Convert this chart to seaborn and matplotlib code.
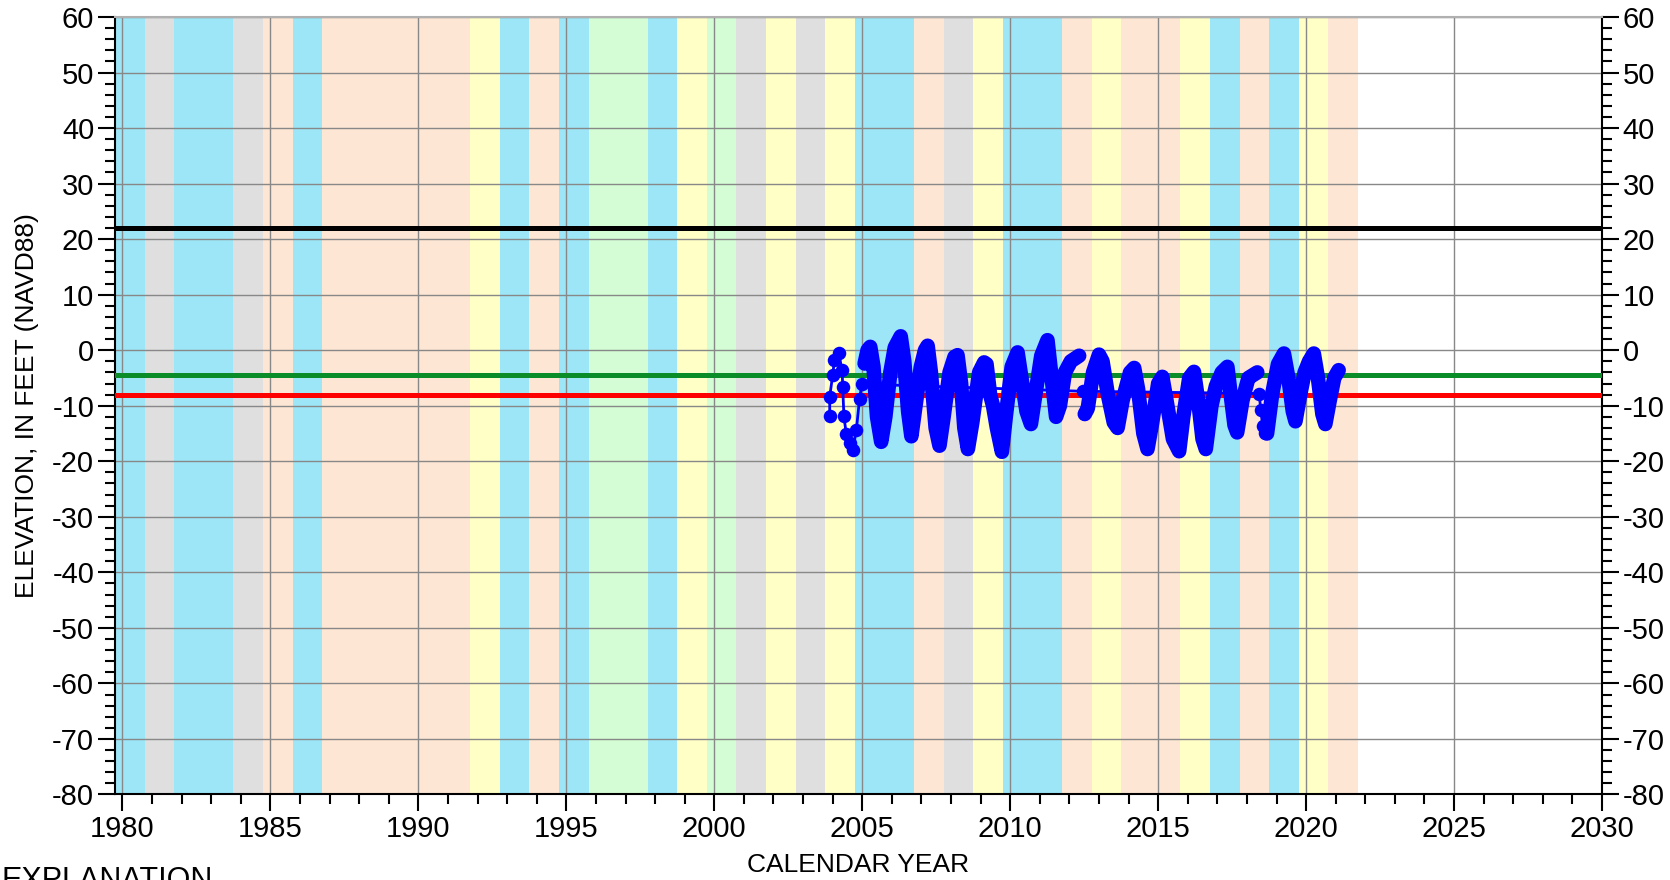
import pandas as pd
import seaborn as sns
import matplotlib.pyplot as plt
from matplotlib.ticker import MultipleLocator

# water-year classification shading, WY 1980-2021 (each WY runs Oct 1 - Sep 30)
water_years = list(range(1980, 2022))
wy_class = ['W', 'C', 'W', 'W', 'C', 'D', 'W', 'D', 'D', 'D', 'D', 'D', 'BN', 'W',
            'D', 'W', 'AN', 'AN', 'W', 'BN', 'AN', 'C', 'BN', 'C', 'BN', 'W', 'W',
            'D', 'C', 'BN', 'W', 'W', 'D', 'BN', 'D', 'D', 'BN', 'W', 'D', 'W', 'BN', 'D']
class_colors = {'W': '#9de6f8', 'AN': '#d5fdd5', 'BN': '#ffffc6',
                'D': '#fde6d3', 'C': '#dfdfdf'}

# reference elevations
ref_black = 22.0
ref_green = -4.5
ref_red = -8.0

# sparse early / gap measurements
sparse_year = [2003.90, 2003.90, 2004.00, 2004.06, 2004.20, 2004.32, 2004.34, 2004.38,
               2004.46, 2004.58, 2004.68, 2004.80, 2004.91, 2004.99]
sparse_elev = [-11.9, -8.4, -4.5, -1.8, -0.5, -3.6, -6.6, -11.9,
               -15.1, -16.8, -18.0, -14.4, -8.7, -6.1]
gap_year = [2012.45, 2018.41, 2018.47, 2018.53, 2018.60]
gap_elev = [-7.4, -7.8, -10.8, -13.6, -15.0]

# continuous record, split where the record has gaps
seg1_year = [2005.08, 2005.18, 2005.27, 2005.38, 2005.50, 2005.64, 2005.78, 2005.95,
             2006.10, 2006.30, 2006.42, 2006.55, 2006.66, 2006.80, 2006.98,
             2007.12, 2007.21, 2007.32, 2007.48, 2007.61, 2007.75, 2007.95,
             2008.12, 2008.22, 2008.34, 2008.45, 2008.57, 2008.72, 2008.95,
             2009.12, 2009.20, 2009.32, 2009.42, 2009.55, 2009.72, 2009.85,
             2010.05, 2010.25, 2010.38, 2010.55, 2010.70, 2010.85,
             2011.05, 2011.26, 2011.38, 2011.55, 2011.68, 2011.85, 2012.05, 2012.33]
seg1_elev = [-2.4, 0.0, 0.6, -3.0, -12.0, -16.5, -12.0, -4.0,
             0.5, 2.5, -2.0, -11.0, -15.5, -10.0, -3.0,
             0.0, 0.8, -4.0, -14.0, -17.2, -12.0, -4.0,
             -1.2, -0.9, -6.0, -14.0, -17.8, -13.0, -4.0,
             -2.2, -2.5, -8.0, -10.0, -14.0, -18.3, -12.0,
             -3.0, -0.4, -5.0, -11.0, -13.3, -8.0,
             -1.0, 1.8, -4.0, -12.0, -10.0, -4.0, -2.0, -1.0]
seg2_year = [2012.52, 2012.62, 2012.80, 2013.00, 2013.12, 2013.30, 2013.50, 2013.63,
             2013.80, 2014.05, 2014.19, 2014.32, 2014.50, 2014.64, 2014.80,
             2015.00, 2015.14, 2015.28, 2015.50, 2015.71, 2015.85,
             2016.05, 2016.21, 2016.35, 2016.50, 2016.61, 2016.80, 2016.95,
             2017.15, 2017.34, 2017.45, 2017.58, 2017.67, 2017.85,
             2018.05, 2018.20, 2018.35]
seg2_elev = [-11.5, -10.5, -4.0, -0.8, -2.0, -8.0, -13.0, -14.0,
             -9.0, -4.0, -3.2, -7.0, -15.0, -17.8, -13.0,
             -6.0, -4.8, -9.0, -16.0, -18.2, -12.0,
             -5.0, -3.9, -9.0, -16.0, -17.8, -10.0, -6.5,
             -4.0, -3.0, -8.0, -13.5, -14.8, -9.0,
             -5.0, -4.5, -4.0]
seg3_year = [2018.68, 2018.85, 2019.05, 2019.25, 2019.40, 2019.55, 2019.64, 2019.80,
             2019.95, 2020.10, 2020.26, 2020.40, 2020.55, 2020.65, 2020.80, 2020.95, 2021.10]
seg3_elev = [-15.0, -8.0, -2.5, -0.6, -5.0, -11.0, -12.8, -8.0,
             -4.0, -2.0, -0.6, -5.0, -11.5, -13.3, -9.0, -5.0, -3.6]

sns.set_theme(style='ticks')
plt.rcParams['font.family'] = ['Liberation Sans', 'DejaVu Sans']
plt.rcParams['axes.unicode_minus'] = False
plt.rcParams['text.color'] = 'black'
plt.rcParams['axes.labelcolor'] = 'black'

fig = plt.figure(figsize=(16.7, 8.8), dpi=100)
ax = fig.add_axes([0.0689, 0.0972, 0.8904, 0.8835])

for wy, c in zip(water_years, wy_class):
    ax.axvspan(wy - 0.25, wy + 0.75, color=class_colors[c], lw=0, zorder=1)

ax.axhline(ref_black, color='black', lw=3.6, zorder=3)
ax.axhline(ref_green, color='#0a8c28', lw=3.6, zorder=3)
ax.axhline(ref_red, color='#ff0000', lw=3.6, zorder=3)

main = pd.concat([
    pd.DataFrame({'year': seg1_year, 'elev': seg1_elev, 'seg': 1}),
    pd.DataFrame({'year': seg2_year, 'elev': seg2_elev, 'seg': 2}),
    pd.DataFrame({'year': seg3_year, 'elev': seg3_elev, 'seg': 3}),
])
sns.lineplot(data=main, x='year', y='elev', units='seg', estimator=None, sort=False,
             color='#0000ff', lw=10.5, solid_joinstyle='round', solid_capstyle='round',
             zorder=4, ax=ax)

sparse = pd.DataFrame({'year': sparse_year + gap_year, 'elev': sparse_elev + gap_elev})
sns.lineplot(data=sparse, x='year', y='elev', estimator=None, sort=False,
             color='#0000ff', lw=2.0, zorder=4, ax=ax)
sns.scatterplot(data=sparse, x='year', y='elev', color='#0000ff', s=95, lw=0,
                zorder=5, ax=ax)

ax.set_xlim(1979.75, 2030)
ax.set_ylim(-80, 60)
ax.xaxis.set_major_locator(MultipleLocator(5))
ax.xaxis.set_minor_locator(MultipleLocator(1))
ax.yaxis.set_major_locator(MultipleLocator(10))
ax.yaxis.set_minor_locator(MultipleLocator(2))
ax.set_axisbelow('line')
ax.grid(which='major', color='#888888', lw=1.0)

ax.tick_params(which='both', direction='out', width=1.5, colors='black',
               labelsize=21, right=True, labelright=True, top=False)
ax.tick_params(which='major', length=12, pad=3)
ax.tick_params(which='minor', length=7)
for side in ['left', 'right', 'bottom']:
    ax.spines[side].set_color('black')
    ax.spines[side].set_linewidth(1.5)
ax.spines['top'].set_color('#b0b0b0')
ax.spines['top'].set_linewidth(1.5)

ax.set_xlabel('CALENDAR YEAR', fontsize=19)
ax.set_ylabel('ELEVATION, IN FEET (NAVD88)', fontsize=19)
ax.xaxis.set_label_coords(0.5, -0.075)
ax.yaxis.set_label_coords(-0.051, 0.5)

fig.text(0.001, 0.016, 'EXPLANATION', fontsize=22, va='top', ha='left')

fig.savefig('out.png', dpi=100)
plt.close(fig)
